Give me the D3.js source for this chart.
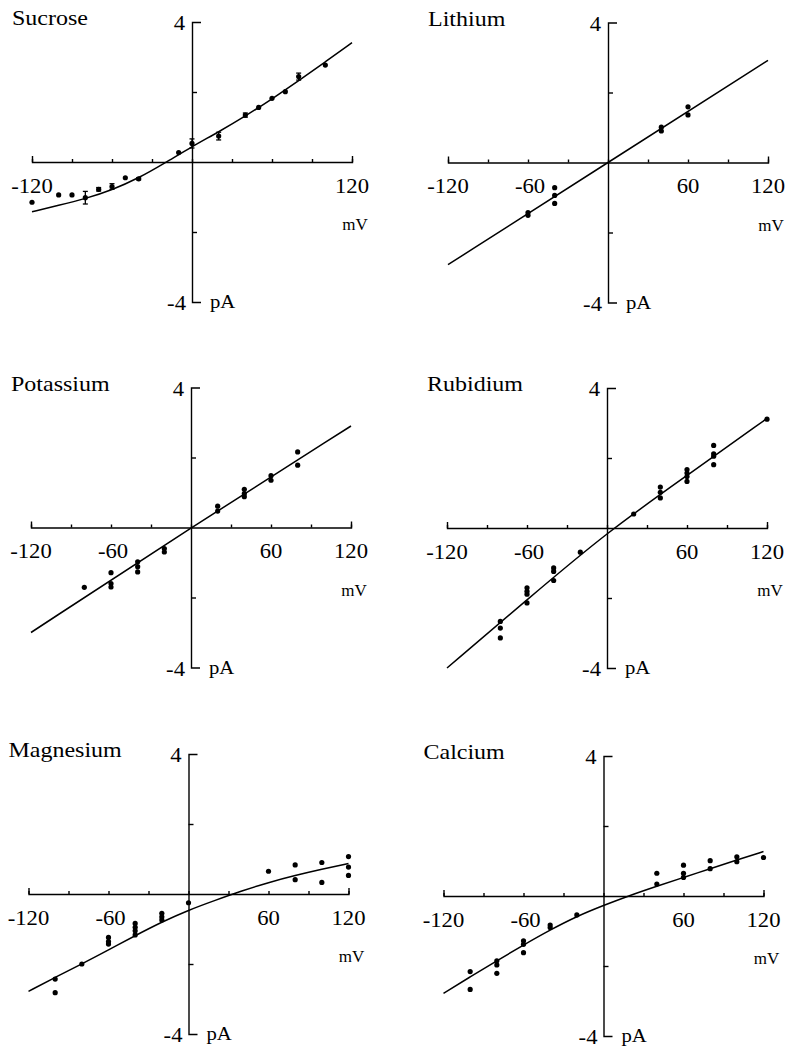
<!DOCTYPE html>
<html>
<head>
<meta charset="utf-8">
<script src="https://cdn.jsdelivr.net/npm/d3@7"></script>
<style>
  body { margin: 0; background: #fff; }
</style>
</head>
<body>
<svg id="chart" width="787" height="1050"></svg>
<script>
// Panel titles and tick labels
const panelNames = ["Sucrose", "Lithium", "Potassium", "Rubidium", "Magnesium", "Calcium"];
const xLabelsShort = [-120, 120];
const xLabelsLong = [-120, -60, 60, 120];

// Sucrose (mean +/- error)
const sucroseMv = [-120, -100, -90, -80, -70, -60, -50, -40, -10, 0, 20, 40, 50, 60, 70, 80, 100];
const sucrosePa = [-1.15, -0.94, -0.94, -1.02, -0.78, -0.70, -0.45, -0.48, 0.27, 0.53, 0.74, 1.34, 1.56, 1.82, 2.01, 2.44, 2.77];
const sucroseErr = [0, 0, 0, 0.18, 0.05, 0.08, 0, 0.03, 0, 0.13, 0.11, 0.06, 0, 0, 0, 0.1, 0];
const sucroseFitMv = [-120, -100, -80, -60, -40, -20, 0, 20, 40, 60, 80, 100, 120];
const sucroseFitPa = [-1.42, -1.24, -1.05, -0.80, -0.46, -0.02, 0.44, 0.86, 1.31, 1.80, 2.32, 2.86, 3.41];

// Lithium
const lithiumMv = [-60, -60, -40, -40, -40, 40, 40, 60, 60];
const lithiumPa = [-1.43, -1.51, -0.72, -0.94, -1.17, 1.01, 0.90, 1.59, 1.36];
const lithiumFitMv = [-120, 0, 120];
const lithiumFitPa = [-2.92, 0, 2.92];

// Potassium
const potassiumMv = [-80, -60, -60, -60, -40, -40, -40, -20, -20, 20, 20, 40, 40, 40, 60, 60, 80, 80];
const potassiumPa = [-1.71, -1.29, -1.60, -1.70, -0.98, -1.12, -1.27, -0.60, -0.70, 0.61, 0.47, 1.09, 0.97, 0.88, 1.48, 1.35, 2.16, 1.78];
const potassiumFitMv = [-120, 0, 120];
const potassiumFitPa = [-3.0, 0, 2.9];

// Rubidium
const rubidiumMv = [-80, -80, -80, -60, -60, -60, -60, -40, -40, -40, -20, 20, 40, 40, 40, 60, 60, 60, 60, 80, 80, 80, 80, 120];
const rubidiumPa = [-2.67, -2.86, -3.14, -1.71, -1.81, -1.89, -2.14, -1.14, -1.24, -1.50, -0.69, 0.40, 1.17, 1.02, 0.86, 1.67, 1.57, 1.47, 1.33, 2.36, 2.12, 2.05, 1.81, 3.11];
const rubidiumFitMv = [-120, -60, 0, 60, 120];
const rubidiumFitPa = [-4.0, -2.05, -0.12, 1.50, 3.13];

// Magnesium
const magnesiumMv = [-100, -100, -80, -60, -60, -60, -40, -40, -40, -40, -20, -20, -20, 0, 60, 80, 80, 100, 100, 120, 120, 120];
const magnesiumPa = [-2.43, -2.82, -2.0, -1.24, -1.36, -1.43, -0.84, -0.95, -1.05, -1.17, -0.55, -0.65, -0.74, -0.25, 0.65, 0.83, 0.41, 0.90, 0.33, 1.07, 0.77, 0.53];
const magnesiumFitMv = [-120, -100, -80, -60, -40, -20, 0, 20, 40, 60, 80, 100, 120];
const magnesiumFitPa = [-2.78, -2.38, -2.0, -1.60, -1.19, -0.80, -0.46, -0.18, 0.09, 0.33, 0.53, 0.71, 0.87];

// Calcium
const calciumMv = [-100, -100, -80, -80, -80, -60, -60, -60, -40, -40, -20, 40, 40, 60, 60, 60, 80, 80, 100, 100, 120];
const calciumPa = [-2.16, -2.67, -1.85, -1.97, -2.21, -1.28, -1.38, -1.62, -0.83, -0.90, -0.54, 0.65, 0.34, 0.88, 0.65, 0.53, 1.01, 0.78, 1.12, 0.98, 1.10];
const calciumFitMv = [-120, -100, -80, -60, -40, -20, 0, 20, 40, 60, 80, 100, 120];
const calciumFitPa = [-2.78, -2.31, -1.85, -1.40, -0.97, -0.58, -0.27, 0.02, 0.28, 0.53, 0.78, 1.03, 1.27];

const zip = (a, b, c) => a.map((v, i) => ({ mv: v, pa: b[i], err: c ? c[i] : 0 }));

const panels = [
    { name: panelNames[0], pts: zip(sucroseMv, sucrosePa, sucroseErr), fit: zip(sucroseFitMv, sucroseFitPa), xl: xLabelsShort },
    { name: panelNames[1], pts: zip(lithiumMv, lithiumPa), fit: zip(lithiumFitMv, lithiumFitPa), xl: xLabelsLong },
    { name: panelNames[2], pts: zip(potassiumMv, potassiumPa), fit: zip(potassiumFitMv, potassiumFitPa), xl: xLabelsLong },
    { name: panelNames[3], pts: zip(rubidiumMv, rubidiumPa), fit: zip(rubidiumFitMv, rubidiumFitPa), xl: xLabelsLong },
    { name: panelNames[4], pts: zip(magnesiumMv, magnesiumPa), fit: zip(magnesiumFitMv, magnesiumFitPa), xl: xLabelsLong },
    { name: panelNames[5], pts: zip(calciumMv, calciumPa), fit: zip(calciumFitMv, calciumFitPa), xl: xLabelsLong }
];

// Panel placement (pixel of -120 mV / +4 pA corner)
const origins = [[32, 22], [448, 22.5], [31, 387.5], [447, 388], [28.5, 754], [443.5, 756]];
const width = 320, height = 280;
const serif = "'Liberation Serif', 'Times New Roman', Tinos, serif";

const svg = d3.select("#chart");

const x = d3.scaleLinear().domain([-120, 120]).range([0, width]);
const y = d3.scaleLinear().domain([-4, 4]).range([height, 0]);

// smooth fitted curve
const line = d3.line()
    .x(d => x(d.mv))
    .y(d => y(d.pa))
    .curve(d3.curveBasis);

// scaled text helper: the original type is wider than Times
const label = (g, str, tx, ty, size, sx, anchor) => g.append("text")
    .attr("transform", `translate(${tx},${ty}) scale(${sx},1)`)
    .attr("text-anchor", anchor)
    .attr("font-family", serif)
    .attr("font-size", size)
    .attr("fill", "#000")
    .text(str);

panels.forEach((p, i) => {
    const g = svg.append("g")
        .attr("transform", `translate(${origins[i][0]},${origins[i][1]})`);

    // x axis through zero current, ticks pointing up
    g.append("g")
        .attr("transform", `translate(0,${y(0)})`)
        .call(d3.axisTop(x)
            .tickValues(d3.range(-120, 121, 30))
            .tickSizeInner(3)
            .tickSizeOuter(6)
            .tickFormat(""))
        .call(a => a.selectAll("path, line").attr("stroke", "#000").attr("stroke-width", 1.4));

    // y axis through zero voltage, ticks pointing right
    g.append("g")
        .attr("transform", `translate(${x(0)},0)`)
        .call(d3.axisRight(y)
            .tickValues([-2, 2])
            .tickSizeInner(5)
            .tickSizeOuter(9)
            .tickFormat(""))
        .call(a => a.selectAll("path, line").attr("stroke", "#000").attr("stroke-width", 1.4));

    // axis labels
    p.xl.forEach(v => label(g, String(v), x(v) + (v === -60 ? 2 : 0), y(0) + 30.5, 21, 1.08, "middle"));
    label(g, "mV", x(120) + 3, y(0) + 68, 17, 1.0, "middle");
    label(g, "4", x(0) - 7, y(4) + 8, 21, 1.08, "end");
    label(g, "-4", x(0) - 6, y(-4) + 8, 21, 1.08, "end");
    label(g, "pA", x(0) + 18, y(-4) + 6, 18, 1.15, "start");

    // title
    label(g, p.name, -20, 3, 20, 1.2, "start");

    // fitted curve
    g.append("path")
        .datum(p.fit)
        .attr("d", line)
        .attr("fill", "none")
        .attr("stroke", "#000")
        .attr("stroke-width", 1.5);

    // error bars
    const eb = g.selectAll(".err")
        .data(p.pts.filter(d => d.err > 0))
        .enter().append("g")
        .attr("class", "err")
        .attr("stroke", "#000")
        .attr("stroke-width", 1.3);
    eb.append("line")
        .attr("x1", d => x(d.mv)).attr("x2", d => x(d.mv))
        .attr("y1", d => y(d.pa + d.err)).attr("y2", d => y(d.pa - d.err));
    eb.append("line")
        .attr("x1", d => x(d.mv) - 2.5).attr("x2", d => x(d.mv) + 2.5)
        .attr("y1", d => y(d.pa + d.err)).attr("y2", d => y(d.pa + d.err));
    eb.append("line")
        .attr("x1", d => x(d.mv) - 2.5).attr("x2", d => x(d.mv) + 2.5)
        .attr("y1", d => y(d.pa - d.err)).attr("y2", d => y(d.pa - d.err));

    // data points
    g.selectAll(".dot")
        .data(p.pts)
        .enter().append("circle")
        .attr("class", "dot")
        .attr("cx", d => x(d.mv))
        .attr("cy", d => y(d.pa))
        .attr("r", 2.6)
        .attr("fill", "#000");
});
</script>
</body>
</html>
